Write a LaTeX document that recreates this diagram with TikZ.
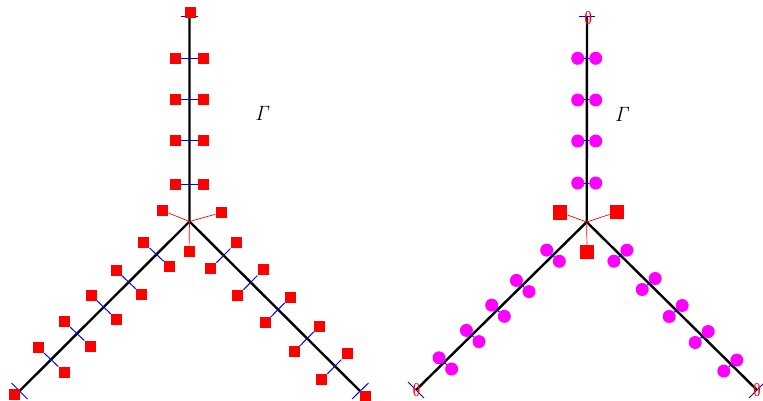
\documentclass[tikz,border=0pt]{standalone}
\usepackage{graphicx}
\usetikzlibrary{calc}
\definecolor{puremag}{RGB}{255,0,255}
\definecolor{purered}{RGB}{255,0,0}
\definecolor{pureblue}{RGB}{0,0,255}
\tikzset{
  leg/.style={line width=2.4pt, black},
  bluetick/.style={pureblue, line width=1pt},
  sq/.style={rectangle, fill=purered, draw=none, inner sep=0pt, minimum size=11pt},
  bigsq/.style={sq, minimum size=14.5pt},
  dot/.style={circle, fill=puremag, draw=none, inner sep=0pt, minimum size=13pt},
  spoke/.style={purered, line width=0.7pt},
  zero/.style={text=purered, inner sep=0pt, font=\fontsize{20}{20}\selectfont\bfseries},
  gam/.style={inner sep=0pt, font=\fontsize{20}{20}\selectfont}
}
\begin{document}
\begin{tikzpicture}[x=1pt,y=-1pt]
\useasboundingbox (0,0) rectangle (763,401);

% ---------------- left graph ----------------
\coordinate (A) at (189.5,221.5);
\coordinate (At) at (189.5,17);
\coordinate (Al) at (19.5,391);
\coordinate (Ar) at (360,391);
\draw[leg] (At) -- (A) -- (Al);
\draw[leg] (A) -- (Ar);

% upper leg
\foreach \dy [count=\i] in {37.5,80.5,121.5,163.2} {
  \node[sq] (Au\i a) at ($(A)+(-13.8,-\dy)$) {};
  \node[sq] (Au\i b) at ($(A)+(13.8,-\dy)$) {};
  \draw[bluetick] (Au\i a) -- (Au\i b);
}
% left leg
\foreach \d [count=\i] in {33,60.7,85.7,112.3,138.3} {
  \node[sq] (Al\i a) at ($(A)+(-\d-12.6,\d-12)$) {};
  \node[sq] (Al\i b) at ($(A)+(-\d+12.8,\d+12.2)$) {};
  \draw[bluetick] (Al\i a) -- (Al\i b);
}
% right leg
\foreach \d [count=\i] in {34,61,88.3,117.3,145} {
  \node[sq] (Ar\i a) at ($(A)+(\d+12.5,\d-12.6)$) {};
  \node[sq] (Ar\i b) at ($(A)+(\d-12.8,\d+13)$) {};
  \draw[bluetick] (Ar\i a) -- (Ar\i b);
}
% end ticks and end squares
\coordinate (At1) at ($(At)+(-8.7,0)$);
\coordinate (At2) at ($(At)+(8.7,0)$);
\draw[bluetick] (At1) -- (At2);
\coordinate (Al1) at ($(Al)+(-8,-8)$);
\coordinate (Al2) at ($(Al)+(8,8)$);
\draw[bluetick] (Al1) -- (Al2);
\coordinate (Ar1) at ($(Ar)+(8.5,-8)$);
\coordinate (Ar2) at ($(Ar)+(-8,8)$);
\draw[bluetick] (Ar1) -- (Ar2);
\node[sq] (Ate) at ($(At)+(0.8,-4.3)$) {};
\node[sq] (Ale) at ($(Al)+(-5.5,3)$) {};
\node[sq] (Are) at ($(Ar)+(5.7,5)$) {};

% center spokes
\node[sq] (Ac1) at ($(A)+(-26.8,-10.8)$) {};
\node[sq] (Ac2) at ($(A)+(31.5,-8.8)$) {};
\node[sq] (Ac3) at ($(A)+(-0.5,29.5)$) {};
\draw[spoke] (A) -- (Ac1);
\draw[spoke] (A) -- (Ac2);
\draw[spoke] (A) -- (Ac3);

\node[gam] (GA) at (263,113.7) {$\mathit{\Gamma}$};

% ---------------- right graph ----------------
\coordinate (B) at (586.7,222);
\coordinate (Bt) at (587,17);
\coordinate (Bl) at (416,390);
\coordinate (Br) at (757,390);
\draw[leg] (Bt) -- (B) -- (Bl);
\draw[leg] (B) -- (Br);

% upper leg
\foreach \dy [count=\i] in {39,81,122,163.7} {
  \node[dot] (Bu\i a) at ($(B)+(-9,-\dy)$) {};
  \node[dot] (Bu\i b) at ($(B)+(9,-\dy)$) {};
  \draw[bluetick] (Bu\i a) -- (Bu\i b);
}
% left leg
\foreach \d [count=\i] in {33.7,64,88.7,114,141.4} {
  \node[dot] (Bl\i a) at ($(B)+(-\d-6.3,\d-5.6)$) {};
  \node[dot] (Bl\i b) at ($(B)+(-\d+6.3,\d+5.6)$) {};
  \draw[bluetick] (Bl\i a) -- (Bl\i b);
}
% right leg
\foreach \d [count=\i] in {33.7,62,89,115,143.6} {
  \node[dot] (Br\i a) at ($(B)+(\d+6.5,\d-5.5)$) {};
  \node[dot] (Br\i b) at ($(B)+(\d-6.5,\d+5.5)$) {};
  \draw[bluetick] (Br\i a) -- (Br\i b);
}
% end ticks and zeros
\coordinate (Bt1) at ($(Bt)+(-8.3,0)$);
\coordinate (Bt2) at ($(Bt)+(8.3,0)$);
\draw[bluetick] (Bt1) -- (Bt2);
\coordinate (Bl1) at ($(Bl)+(-8,-8)$);
\coordinate (Bl2) at ($(Bl)+(8,8)$);
\draw[bluetick] (Bl1) -- (Bl2);
\coordinate (Br1) at ($(Br)+(8,-8)$);
\coordinate (Br2) at ($(Br)+(-8,8)$);
\draw[bluetick] (Br1) -- (Br2);
\node[zero] (Bte) at ($(Bt)+(1.3,1.5)$) {\scalebox{0.65}[1]{0}};
\node[zero] (Ble) at ($(Bl)+(0.5,0.5)$) {\scalebox{0.65}[1]{0}};
\node[zero] (Bre) at ($(Br)+(0,0.5)$) {\scalebox{0.65}[1]{0}};

% center spokes
\node[bigsq] (Bc1) at ($(B)+(-26.7,-9.7)$) {};
\node[bigsq] (Bc2) at ($(B)+(30.3,-10)$) {};
\node[bigsq] (Bc3) at ($(B)+(0.3,30)$) {};
\draw[spoke] (B) -- (Bc1);
\draw[spoke] (B) -- (Bc2);
\draw[spoke] (B) -- (Bc3);

\node[gam] (GB) at (622.5,114) {$\mathit{\Gamma}$};
\end{tikzpicture}
\end{document}
